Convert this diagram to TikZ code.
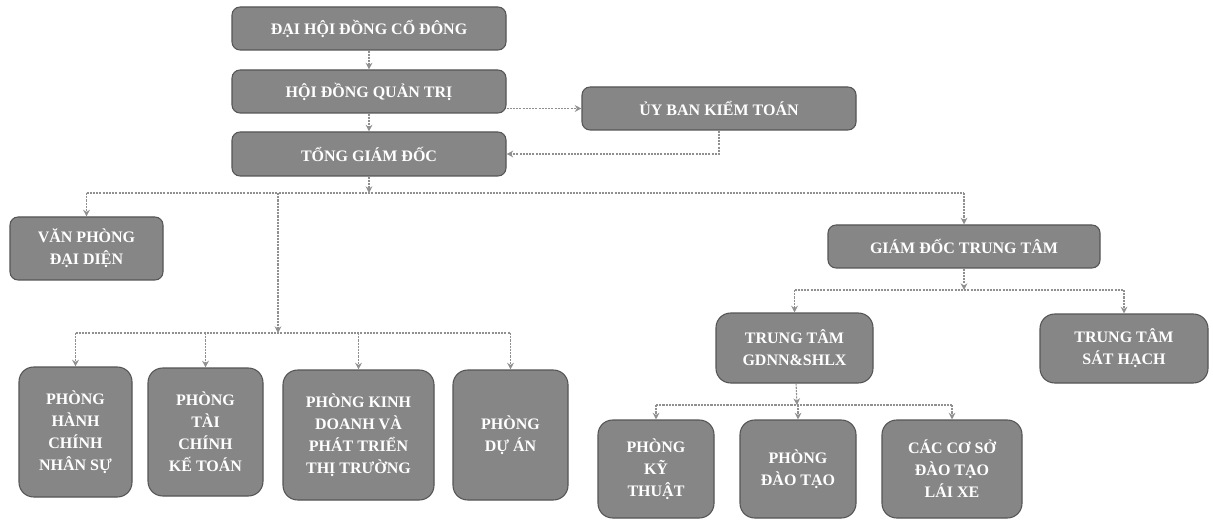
\documentclass[tikz,border=0pt]{standalone}
\usepackage{fontspec}
\setmainfont{Liberation Serif}
\usetikzlibrary{arrows.meta}
\definecolor{boxfill}{HTML}{868686}
\definecolor{boxline}{HTML}{555555}
\definecolor{connc}{HTML}{909090}
\tikzset{
  orgbox/.style={draw=boxline, line width=0.8pt, fill=boxfill, text=white,
    font=\bfseries\fontsize{12}{16.5}\selectfont, align=center, inner sep=0pt,
    rounded corners=6pt},
  tallbox/.style={orgbox, rounded corners=11pt},
  sz/.style 2 args={minimum width=#1*0.75pt, minimum height=#2*0.75pt},
  link/.style={draw=connc, line width=0.8pt, dash pattern=on 1.6pt off 0.8pt},
  arr/.style={link, -{Stealth[length=5pt,width=5pt]}},
}
\begin{document}
\begin{tikzpicture}[x=0.75pt,y=-0.75pt]
\useasboundingbox[fill=white] (0,0) rectangle (1213,520);
% top chain
\node[orgbox, sz={274}{43}] (dh) at (369,28.5) {ĐẠI HỘI ĐỒNG CỔ ĐÔNG};
\node[orgbox, sz={274}{43}] (hd) at (369,91.5) {HỘI ĐỒNG QUẢN TRỊ};
\node[orgbox, sz={274}{44}] (tgd) at (369,154) {TỔNG GIÁM ĐỐC};
\node[orgbox, sz={274}{43}] (ub) at (719,108.5) {ỦY BAN KIỂM TOÁN};
% second level
\node[orgbox, sz={153}{63}] (vp) at (86.5,248.5) {VĂN PHÒNG\\ĐẠI DIỆN};
\node[orgbox, sz={272}{43}] (gdtt) at (964,246.5) {GIÁM ĐỐC TRUNG TÂM};
% departments
\node[tallbox, sz={113}{130}] (phc) at (75.5,432) {PHÒNG\\HÀNH\\CHÍNH\\NHÂN SỰ};
\node[tallbox, sz={115}{128}] (ptc) at (205.5,432) {PHÒNG\\TÀI\\CHÍNH\\KẾ TOÁN};
\node[tallbox, sz={151}{130}] (pkd) at (358.5,435) {PHÒNG KINH\\DOANH VÀ\\PHÁT TRIỂN\\THỊ TRƯỜNG};
\node[tallbox, sz={115}{130}] (pda) at (510.5,435) {PHÒNG\\DỰ ÁN};
% centre branch
\node[tallbox, sz={157}{70}] (tt) at (794.5,348) {TRUNG TÂM\\GDNN\&SHLX};
\node[tallbox, sz={168}{69}] (ttsh) at (1124,348.5) {TRUNG TÂM\\SÁT HẠCH};
\node[tallbox, sz={116}{98}] (pkt) at (656,469) {PHÒNG\\KỸ\\THUẬT};
\node[tallbox, sz={116}{98}] (pdt) at (798,469) {PHÒNG\\ĐÀO TẠO};
\node[tallbox, sz={140}{98}] (ccs) at (952,469) {CÁC CƠ SỞ\\ĐÀO TẠO\\LÁI XE};
% bus coordinates
\coordinate (busA) at (369,193);
\coordinate (drop) at (278,193);
\coordinate (busB) at (278,333);
\coordinate (busC) at (964,290);
\coordinate (busD) at (797,405);
% top connectors
\draw[arr] (dh) -- (hd);
\draw[arr] (hd) -- (tgd);
\draw[arr] (ub.west -| hd.east) -- (ub.west);
\draw[arr] (ub.south) |- (tgd.east);
\draw[arr] (tgd) -- (busA);
% main bus
\draw[link] (vp.north |- busA) -- (gdtt.north |- busA);
\draw[arr] (vp.north |- busA) -- (vp.north);
\draw[arr] (gdtt.north |- busA) -- (gdtt.north);
\draw[arr] (drop) -- (busB);
% department bus
\draw[link] (phc.north |- busB) -- (pda.north |- busB);
\foreach \n in {phc,ptc,pkd,pda} \draw[arr] (\n.north |- busB) -- (\n.north);
% centre bus
\draw[arr] (gdtt) -- (busC);
\draw[link] (tt.north |- busC) -- (ttsh.north |- busC);
\foreach \n in {tt,ttsh} \draw[arr] (\n.north |- busC) -- (\n.north);
% training bus
\draw[arr] (tt) -- (busD);
\draw[link] (pkt.north |- busD) -- (ccs.north |- busD);
\foreach \n in {pkt,pdt,ccs} \draw[arr] (\n.north |- busD) -- (\n.north);
\end{tikzpicture}
\end{document}
